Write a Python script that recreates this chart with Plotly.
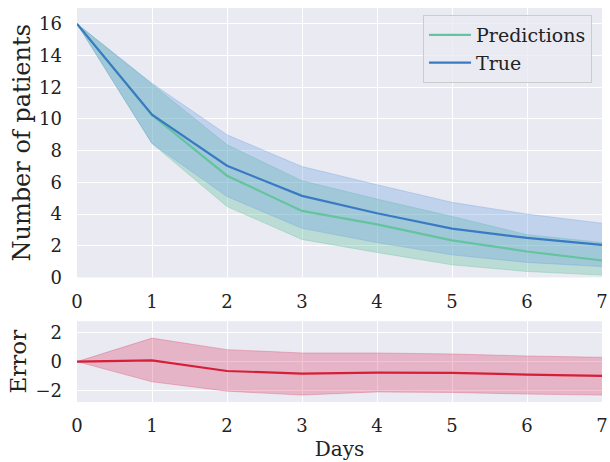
import plotly.graph_objects as go

days = [0, 1, 2, 3, 4, 5, 6, 7]

pred_mean = [16.0, 10.25, 6.42, 4.2, 3.35, 2.34, 1.64, 1.07]
pred_upper = [16.0, 12.2, 8.38, 6.1, 4.95, 3.85, 2.7, 2.21]
pred_lower = [16.0, 8.45, 4.48, 2.4, 1.58, 0.8, 0.38, 0.15]

true_mean = [16.0, 10.27, 7.05, 5.15, 4.05, 3.08, 2.5, 2.06]
true_upper = [16.0, 12.25, 9.0, 7.0, 5.85, 4.74, 4.0, 3.42]
true_lower = [16.0, 8.45, 5.11, 3.1, 2.2, 1.43, 0.95, 0.69]

err_mean = [0.0, 0.09, -0.65, -0.83, -0.76, -0.78, -0.9, -0.99]
err_upper = [0.0, 1.63, 0.83, 0.6, 0.6, 0.53, 0.39, 0.3]
err_lower = [0.0, -1.4, -2.05, -2.32, -2.1, -2.14, -2.25, -2.32]

top_yticks = [0, 2, 4, 6, 8, 10, 12, 14, 16]
err_yticks = [-2, 0, 2]
err_yticklabels = ["\u22122", "0", "2"]

GREEN = "rgb(100,196,158)"
GREEN_FILL = "rgba(100,196,158,0.35)"
BLUE = "rgb(58,122,196)"
BLUE_FILL = "rgba(100,155,225,0.3)"
RED = "rgb(214,30,56)"
RED_FILL = "rgba(220,60,100,0.3)"

FONT = "DejaVu Serif"

fig = go.Figure()

def band(x, up, lo, fill, xa, ya):
    fig.add_trace(go.Scatter(x=x, y=up, mode="lines", line=dict(color=fill, width=1),
                             showlegend=False, hoverinfo="skip", xaxis=xa, yaxis=ya))
    fig.add_trace(go.Scatter(x=x, y=lo, mode="lines", line=dict(color=fill, width=1),
                             fill="tonexty", fillcolor=fill,
                             showlegend=False, hoverinfo="skip", xaxis=xa, yaxis=ya))

band(days, pred_upper, pred_lower, GREEN_FILL, "x", "y")
band(days, true_upper, true_lower, BLUE_FILL, "x", "y")
fig.add_trace(go.Scatter(x=days, y=pred_mean, mode="lines", name="Predictions",
                         line=dict(color=GREEN, width=2.2), xaxis="x", yaxis="y"))
fig.add_trace(go.Scatter(x=days, y=true_mean, mode="lines", name="True",
                         line=dict(color=BLUE, width=2.2), xaxis="x", yaxis="y"))

band(days, err_upper, err_lower, RED_FILL, "x2", "y2")
fig.add_trace(go.Scatter(x=days, y=err_mean, mode="lines", showlegend=False,
                         line=dict(color=RED, width=2.2), xaxis="x2", yaxis="y2"))

axis_common = dict(showgrid=True, gridcolor="white", gridwidth=1.2, zeroline=False,
                   showline=False, ticks="", automargin=False,
                   tickfont=dict(family=FONT, size=18, color="#222"))

fig.update_layout(
    template="none",
    width=610, height=462,
    margin=dict(l=77, r=8, t=8, b=60),
    paper_bgcolor="white", plot_bgcolor="#eaeaf2",
    font=dict(family=FONT, color="#222"),
    xaxis=dict(domain=[0, 1], anchor="y", range=[0, 7], tickvals=days,
               ticklabelstandoff=12, **axis_common),
    yaxis=dict(domain=[0.316, 1], anchor="x", range=[0, 17], tickvals=top_yticks,
               ticklabelstandoff=14,
               title=dict(text="Number of patients", font=dict(family=FONT, size=24), standoff=1),
               **axis_common),
    xaxis2=dict(domain=[0, 1], anchor="y2", range=[0, 7], tickvals=days,
                ticklabelstandoff=11,
                title=dict(text="Days", font=dict(family=FONT, size=20), standoff=6),
                **axis_common),
    yaxis2=dict(domain=[0, 0.205], anchor="x2", range=[-2.8, 2.8], tickvals=err_yticks,
                ticktext=err_yticklabels, ticklabelstandoff=14,
                title=dict(text="Error", font=dict(family=FONT, size=23), standoff=2),
                **axis_common),
    legend=dict(x=0.981, y=0.982, xanchor="right", yanchor="top", traceorder="normal",
                itemwidth=42,
                bgcolor="rgba(234,234,242,0.8)", bordercolor="#cccccc", borderwidth=1,
                font=dict(family=FONT, size=19, color="#222")),
)

fig.write_html("out.html", config={"displayModeBar": False},
               post_script="document.body.style.margin='0';")
